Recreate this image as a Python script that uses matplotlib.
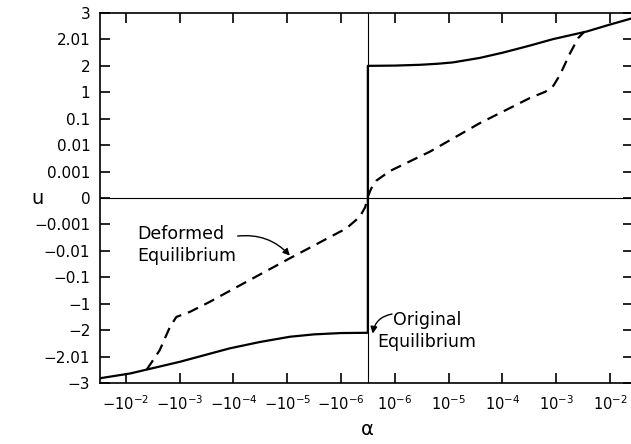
import matplotlib
matplotlib.use("Agg")
import matplotlib.pyplot as plt

plt.rcParams['font.family'] = ['DejaVu Sans']
plt.rcParams['mathtext.fontset'] = 'dejavusans'

# Axis positions: x uses a symmetric log-like layout, y uses equally spaced levels
x_tick_pos = [-4.5, -3.5, -2.5, -1.5, -0.5, 0.5, 1.5, 2.5, 3.5, 4.5]
x_tick_labels = [r'$-10^{-2}$', r'$-10^{-3}$', r'$-10^{-4}$', r'$-10^{-5}$', r'$-10^{-6}$',
                 r'$10^{-6}$', r'$10^{-5}$', r'$10^{-4}$', r'$10^{-3}$', r'$10^{-2}$']
y_tick_pos = [7, 6, 5, 4, 3, 2, 1, 0, -1, -2, -3, -4, -5, -6, -7]
y_tick_labels = ['3', '2.01', '2', '1', '0.1', '0.01', '0.001', '0',
                 '\u22120.001', '\u22120.01', '\u22120.1', '\u22121', '\u22122', '\u22122.01', '\u22123']

# Original equilibrium (solid), incl. jump at alpha = 0
orig_x = [-4.98, -4.42, -3.5, -2.57, -2.01, -1.45, -1.0, -0.5, 0.0,
          0.0, 0.5, 0.97, 1.3, 1.58, 2.08, 2.51, 3.0, 3.44, 4.07, 4.48, 4.93]
orig_y = [-6.82, -6.64, -6.20, -5.69, -5.45, -5.25, -5.16, -5.11, -5.10,
          5.0, 5.01, 5.04, 5.08, 5.13, 5.30, 5.50, 5.76, 6.01, 6.30, 6.55, 6.81]

# Deformed equilibrium (dashed)
def_x = [-4.11, -3.87, -3.68, -3.56, -3.31, -2.94, -2.60, -1.45, -0.40, -0.15, -0.05, 0.0,
         0.06, 0.16, 0.41, 1.15, 2.08, 3.01, 3.30, 3.45, 3.57, 3.76, 3.91, 4.03]
def_y = [-6.49, -5.76, -4.88, -4.50, -4.31, -3.93, -3.55, -2.28, -1.15, -0.71, -0.35, 0.05,
         0.35, 0.66, 1.02, 1.75, 2.83, 3.78, 4.02, 4.25, 4.65, 5.48, 6.05, 6.30]

W, H = 631, 444
fig = plt.figure(figsize=(W / 100, H / 100), dpi=100)
ax = fig.add_axes([100 / W, 61 / H, 533 / W, 370 / H])
ax.set_xlim(-4.98, 4.93)
ax.set_ylim(-7, 7)

ax.axhline(0, color='black', lw=0.8)
ax.axvline(0, color='black', lw=0.8)

ax.plot(orig_x, orig_y, color='black', lw=1.6, solid_joinstyle='round')
ax.plot(def_x, def_y, color='black', lw=1.6, dashes=(5, 3.2))

ax.set_xticks(x_tick_pos)
ax.set_xticklabels(x_tick_labels)
ax.set_yticks(y_tick_pos)
ax.set_yticklabels(y_tick_labels)
ax.tick_params(direction='in', length=7.5, width=1.2, top=True, right=True,
               labelsize=11, colors='black')
ax.tick_params(axis='x', pad=8, labelsize=10.5)
ax.tick_params(axis='y', pad=7)
for s in ax.spines.values():
    s.set_linewidth(1.2)

ax.set_xlabel('\u03b1', fontsize=14, va='center')
ax.xaxis.set_label_coords(0.502, -0.125)
ax.set_ylabel('u', fontsize=14, rotation=0, va='center', ha='center')
ax.yaxis.set_label_coords(-0.117, 0.5)

fs = 12.5
ax.text(-4.28, -1.78, 'Deformed\nEquilibrium', fontsize=fs, ha='left', va='center',
        linespacing=1.3)
ax.annotate('', xy=(-1.45, -2.18), xytext=(-2.42, -1.44),
            arrowprops=dict(arrowstyle='-|>', color='black', lw=1.0,
                            connectionstyle='arc3,rad=-0.25', mutation_scale=10,
                            shrinkA=0, shrinkB=0))
ax.text(1.10, -5.02, 'Original\nEquilibrium', fontsize=fs, ha='center', va='center',
        linespacing=1.3)
ax.annotate('', xy=(0.09, -5.13), xytext=(0.45, -4.39),
            arrowprops=dict(arrowstyle='-|>', color='black', lw=1.0,
                            connectionstyle='arc3,rad=0.35', mutation_scale=10,
                            shrinkA=0, shrinkB=0))

fig.savefig('out.png', dpi=100)
